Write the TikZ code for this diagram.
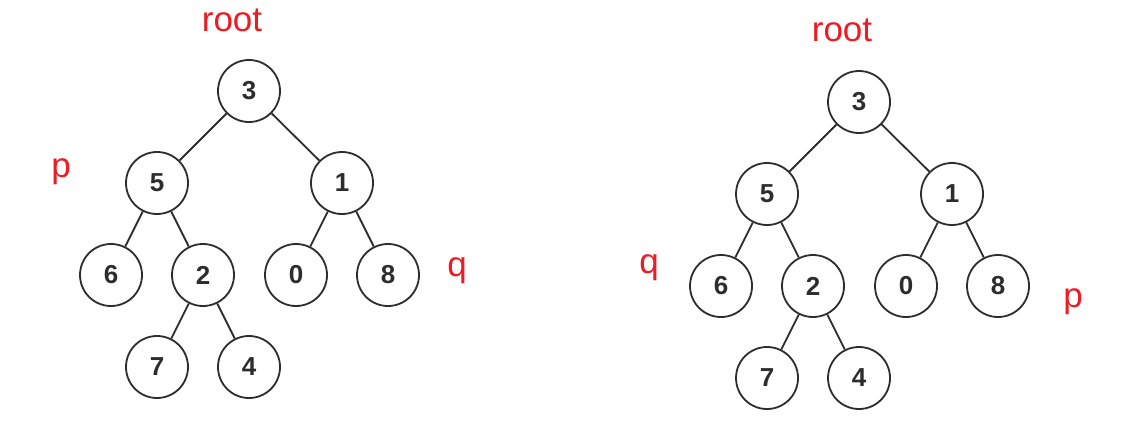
\documentclass[tikz,border=0pt]{standalone}
\usepackage{fontspec}
\setmainfont{Liberation Sans}
\usetikzlibrary{positioning}
\definecolor{labelred}{RGB}{235,28,36}
\definecolor{inkgray}{RGB}{45,45,45}

\begin{document}
\begin{tikzpicture}[
    x=0.5pt, y=-0.5pt,
    on grid,
    node distance=46pt and 23pt,
    vertex/.style={draw=inkgray, circle, line width=0.9pt, minimum size=31pt, inner sep=0pt, text=inkgray, font=\fontsize{13}{15}\selectfont\bfseries},
    link/.style={draw=inkgray, line width=0.9pt},
    tag/.style={text=labelred, inner sep=0pt, font=\fontsize{17.5}{20}\selectfont}
  ]
    \useasboundingbox (0,0) rectangle (1122,423);
    % left tree
    \node[vertex] (la) at (249,91) {3};
    \node[vertex, below left=46pt and 46pt of la] (lb) {5};
    \node[vertex, below right=46pt and 46.5pt of la] (lc) {1};
    \node[vertex, below left=of lb] (ld) {6};
    \node[vertex, below right=of lb] (le) {2};
    \node[vertex, below left=of lc] (lf) {0};
    \node[vertex, below right=of lc] (lg) {8};
    \node[vertex, below left=of le] (lh) {7};
    \node[vertex, below right=of le] (li) {4};
    \node[tag] (lroot) at (232,20) {root};
    \node[tag] (lp) at (61,172) {p};
    \node[tag] (lq) at (457,271) {q};
    \draw[link] (la) -- (lb);
    \draw[link] (la) -- (lc);
    \draw[link] (lb) -- (ld);
    \draw[link] (lb) -- (le);
    \draw[link] (lc) -- (lf);
    \draw[link] (lc) -- (lg);
    \draw[link] (le) -- (lh);
    \draw[link] (le) -- (li);
    % right tree
    \node[vertex] (ra) at (859,102) {3};
    \node[vertex, below left=46pt and 46pt of ra] (rb) {5};
    \node[vertex, below right=46pt and 46.5pt of ra] (rc) {1};
    \node[vertex, below left=of rb] (rd) {6};
    \node[vertex, below right=of rb] (re) {2};
    \node[vertex, below left=of rc] (rf) {0};
    \node[vertex, below right=of rc] (rg) {8};
    \node[vertex, below left=of re] (rh) {7};
    \node[vertex, below right=of re] (ri) {4};
    \node[tag] (rroot) at (842,30) {root};
    \node[tag] (rq) at (649,268) {q};
    \node[tag] (rp) at (1073,302) {p};
    \draw[link] (ra) -- (rb);
    \draw[link] (ra) -- (rc);
    \draw[link] (rb) -- (rd);
    \draw[link] (rb) -- (re);
    \draw[link] (rc) -- (rf);
    \draw[link] (rc) -- (rg);
    \draw[link] (re) -- (rh);
    \draw[link] (re) -- (ri);
\end{tikzpicture}
\end{document}
